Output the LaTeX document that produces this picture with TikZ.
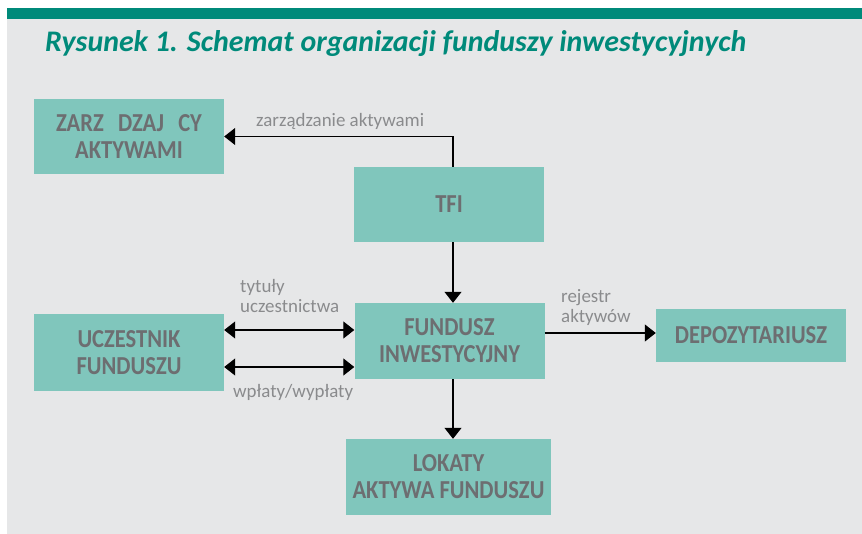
\documentclass[tikz,border=0pt]{standalone}
\usepackage{fontspec}
\setmainfont{Carlito}
\newfontfamily\boxfont[FakeStretch=0.87]{Carlito}
\usepackage{tikz}
\usepackage{xcolor}
\usetikzlibrary{positioning, arrows.meta}

\definecolor{barteal}{HTML}{008A7A}
\definecolor{boxteal}{HTML}{80C6BC}
\definecolor{bggray}{HTML}{E6E7E8}
\definecolor{boxtext}{HTML}{6D6E71}
\definecolor{labeltext}{HTML}{8A8B8D}

\tikzset{
  orgbox/.style={fill=boxteal, minimum width=190bp, minimum height=75bp, align=center,
    text=boxtext, inner sep=0pt, font=\boxfont\fontsize{26}{27}\selectfont\bfseries},
  flowlabel/.style={anchor=base west, align=left, text=labeltext, inner sep=0pt,
    font=\fontsize{19}{20.5}\selectfont},
  flow/.style={line width=1.2bp, -{Triangle[length=11bp, width=17bp]}},
  biflow/.style={line width=1.2bp, {Triangle[length=11bp, width=17bp]}-{Triangle[length=11bp, width=17bp]}}
}

\begin{document}
\begin{tikzpicture}[x=1bp, y=-1bp]
  % Frame
  \useasboundingbox (0,0) rectangle (862,534);
  \fill[bggray] (7,19) rectangle (862,534);
  \fill[barteal] (7,8) rectangle (862,19);
  \node[anchor=base west, inner sep=0pt, text=barteal, font=\fontsize{30}{31}\selectfont\bfseries\itshape]
    (title) at (45,52) {Rysunek 1. Schemat organizacji funduszy inwestycyjnych};

  % Boxes
  \node[orgbox] (zarz) at (129,136.5) {ZARZ\hspace{0.55em}DZAJ\hspace{0.55em}CY\\AKTYWAMI};
  \node[orgbox] (tfi) at (449,204.5) {TFI};
  \node[orgbox, minimum height=76bp] (fundusz) at (449.5,341) {FUNDUSZ\\INWESTYCYJNY};
  \node[orgbox, minimum height=76bp] (uczestnik) at (129,352.5) {UCZESTNIK\\FUNDUSZU};
  \node[orgbox, minimum height=53bp] (depo) at (751,335.5) {DEPOZYTARIUSZ};
  \node[orgbox, minimum width=205bp, minimum height=76bp] (lokaty) at (448.5,477) {LOKATY\\AKTYWA FUNDUSZU};

  % Arrows
  \coordinate (ax) at (453,0);
  \coordinate (t1) at (0,330);
  \coordinate (t2) at (0,367);
  \coordinate (rj) at (0,333);
  \draw[flow] (tfi.north -| ax) |- (zarz.east);
  \draw[flow] (tfi.south -| ax) -- (fundusz.north -| ax);
  \draw[flow] (fundusz.south -| ax) -- (lokaty.north -| ax);
  \draw[biflow] (uczestnik.east |- t1) -- (fundusz.west |- t1);
  \draw[biflow] (uczestnik.east |- t2) -- (fundusz.west |- t2);
  \draw[flow] (fundusz.east |- rj) -- (depo.west |- rj);

  % Labels
  \node[flowlabel] (lzarz) at (256,127) {zarządzanie aktywami};
  \node[flowlabel] (ltyt) at (240,313) {tytuły\\uczestnictwa};
  \node[flowlabel] (lwpl) at (233,397) {wpłaty/wypłaty};
  \node[flowlabel] (lrej) at (561,323) {rejestr\\aktywów};
\end{tikzpicture}
\end{document}
